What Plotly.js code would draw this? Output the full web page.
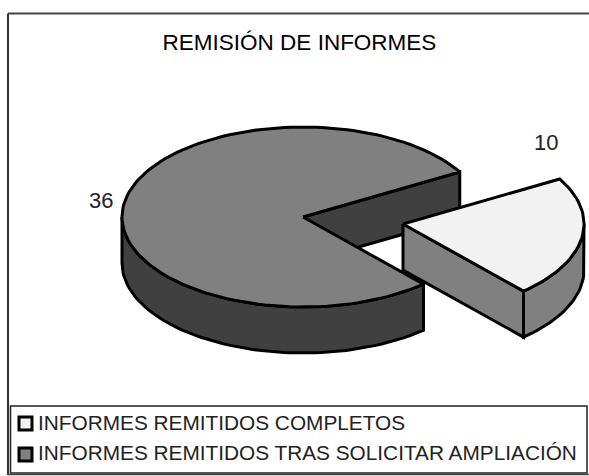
<!DOCTYPE html>
<html><head><meta charset="utf-8">
<script src="https://cdn.plot.ly/plotly-3.0.1.min.js"></script>
<style>html,body{margin:0;padding:0;background:#fff}#c{width:589px;height:476px}</style>
</head><body><div id="c"></div>
<script>
const chartTitle = "REMISIÓN DE INFORMES";
const categories = ["INFORMES REMITIDOS COMPLETOS", "INFORMES REMITIDOS TRAS SOLICITAR AMPLIACIÓN"];
const values = [10, 36];
const topColors = ["#f2f2f2", "#808080"];
const sideColors = ["#808080", "#404040"];

// projection of the tilted pie, in pixels of the hidden axes
const RX = 181, RY = 90, DEPTH = 46, START = 30;
const APEX = [[403, 224], [303, 217]];
const total = values.reduce((a, b) => a + b, 0);
const smallEnd = START - values[0] / total * 360;

function rim(c, deg, drop) {
  const r = deg * Math.PI / 180;
  return [c[0] + RX * Math.cos(r), c[1] - RY * Math.sin(r) + (drop || 0)];
}
function arc(c, from, to, drop) {
  const out = [], n = Math.max(2, Math.ceil(Math.abs(to - from) / 2));
  for (let i = 0; i <= n; i++) out.push(rim(c, from + (to - from) * i / n, drop));
  return out;
}
function poly(pts, fill) {
  const p = pts.concat([pts[0]]);
  return { type: "scatter", mode: "lines", x: p.map(q => q[0]), y: p.map(q => q[1]),
    fill: "toself", fillcolor: fill, line: { color: "#000", width: 3 }, hoverinfo: "skip", showlegend: false };
}
const big = APEX[1], small = APEX[0];
const bigEnd = smallEnd + 360;
const traces = [
  // large slice: outer wall, cut wall, top
  poly(arc(big, 180, bigEnd).concat(arc(big, bigEnd, 180, DEPTH)), sideColors[1]),
  poly([big, rim(big, START), rim(big, START, DEPTH), [big[0], big[1] + DEPTH]], sideColors[1]),
  poly([big].concat(arc(big, START, bigEnd)), topColors[1]),
  // pulled slice: cut wall, outer wall, top
  poly([small, rim(small, smallEnd), rim(small, smallEnd, DEPTH), [small[0], small[1] + DEPTH]], sideColors[0]),
  poly(arc(small, smallEnd, 0).concat(arc(small, 0, smallEnd, DEPTH)), sideColors[0]),
  poly([small].concat(arc(small, smallEnd, START)), topColors[0]),
  // legend swatches
  { type: "scatter", mode: "markers", x: [25.5, 25.5], y: [423.5, 454.5],
    marker: { symbol: "square", size: 13, color: topColors, line: { color: "#000", width: 3 } },
    hoverinfo: "skip", showlegend: false }
];
const font = "Liberation Sans, Arial, sans-serif";
const layout = {
  width: 589, height: 476, margin: { l: 0, r: 0, t: 0, b: 0 },
  paper_bgcolor: "#fff", plot_bgcolor: "#fff", showlegend: false,
  title: { text: chartTitle, x: 299.5 / 589, xanchor: "center", y: 1 - 42 / 476, yanchor: "middle",
    font: { family: font, size: 22.5, color: "#000" } },
  xaxis: { range: [0, 589], visible: false, fixedrange: true },
  yaxis: { range: [476, 0], visible: false, fixedrange: true },
  shapes: [
    { type: "line", xref: "x", yref: "y", x0: 8, x1: 589, y0: 13.5, y1: 13.5, line: { color: "#444", width: 2 } },
    { type: "line", xref: "x", yref: "y", x0: 8, x1: 8, y0: 13.5, y1: 475, line: { color: "#333", width: 2 } },
    { type: "line", xref: "x", yref: "y", x0: 8, x1: 589, y0: 474.5, y1: 474.5, line: { color: "#444", width: 1.5 } },
    { type: "rect", xref: "x", yref: "y", x0: 10.5, x1: 587, y0: 406, y1: 473, line: { color: "#222", width: 1.5 } }
  ],
  annotations: [
    { x: 545.5, y: 142, xref: "x", yref: "y", text: String(values[0]), showarrow: false, font: { family: font, size: 22, color: "#222" } },
    { x: 100.5, y: 200, xref: "x", yref: "y", text: String(values[1]), showarrow: false, font: { family: font, size: 22, color: "#222" } },
    { x: 36, y: 422, xref: "x", yref: "y", text: categories[0], xanchor: "left", showarrow: false, font: { family: font, size: 20.8, color: "#222" } },
    { x: 36, y: 452, xref: "x", yref: "y", text: categories[1], xanchor: "left", showarrow: false, font: { family: font, size: 20.8, color: "#222" } }
  ]
};
Plotly.newPlot("c", traces, layout, { staticPlot: true, displayModeBar: false });
</script></body></html>
